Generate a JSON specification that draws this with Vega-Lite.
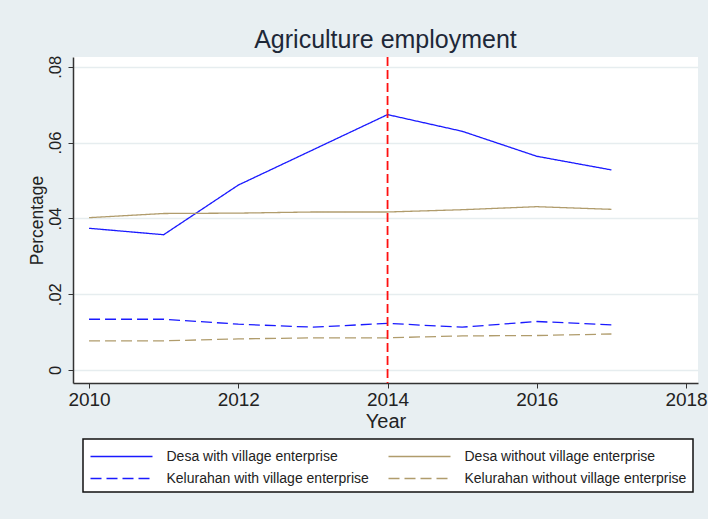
{
  "$schema": "https://vega.github.io/schema/vega-lite/v6.json",
  "width": 625,
  "height": 326,
  "autosize": {"type": "none"},
  "padding": {"left": 73, "top": 57, "right": 10, "bottom": 136},
  "background": "#e8eff2",
  "config": {
    "font": "Liberation Sans",
    "view": {"fill": "white", "stroke": null},
    "axis": {"labelFont": "Liberation Sans", "titleFont": "Liberation Sans", "labelColor": "#222222", "titleColor": "#222222", "domainColor": "#333333", "tickColor": "#333333", "titleFontWeight": "normal"},
    "legend": {"fillColor": "white", "strokeColor": "#111111", "padding": 6.5, "symbolType": "M-1,0L5.2,0", "symbolSize": 400, "symbolStrokeWidth": 1.5, "labelFontSize": 14, "labelColor": "#222222", "labelOffset": 55, "columnPadding": 16, "rowPadding": 4, "labelLimit": 400, "labelFont": "Liberation Sans"}
  },
  "title": {"text": "Agriculture employment", "fontSize": 25, "fontWeight": "normal", "color": "#1e2838", "anchor": "middle", "offset": 2, "font": "Liberation Sans"},
  "datasets": {
    "series": [
      {"year": 2010, "series": "Desa with village enterprise", "value": 0.0374},
      {"year": 2011, "series": "Desa with village enterprise", "value": 0.0357},
      {"year": 2012, "series": "Desa with village enterprise", "value": 0.0488},
      {"year": 2013, "series": "Desa with village enterprise", "value": 0.0581},
      {"year": 2014, "series": "Desa with village enterprise", "value": 0.0674},
      {"year": 2015, "series": "Desa with village enterprise", "value": 0.0630},
      {"year": 2016, "series": "Desa with village enterprise", "value": 0.0564},
      {"year": 2017, "series": "Desa with village enterprise", "value": 0.0528},
      {"year": 2010, "series": "Desa without village enterprise", "value": 0.0402},
      {"year": 2011, "series": "Desa without village enterprise", "value": 0.0413},
      {"year": 2012, "series": "Desa without village enterprise", "value": 0.0414},
      {"year": 2013, "series": "Desa without village enterprise", "value": 0.0417},
      {"year": 2014, "series": "Desa without village enterprise", "value": 0.0417},
      {"year": 2015, "series": "Desa without village enterprise", "value": 0.0423},
      {"year": 2016, "series": "Desa without village enterprise", "value": 0.0431},
      {"year": 2017, "series": "Desa without village enterprise", "value": 0.0424},
      {"year": 2010, "series": "Kelurahan with village enterprise", "value": 0.0134},
      {"year": 2011, "series": "Kelurahan with village enterprise", "value": 0.0134},
      {"year": 2012, "series": "Kelurahan with village enterprise", "value": 0.0121},
      {"year": 2013, "series": "Kelurahan with village enterprise", "value": 0.0113},
      {"year": 2014, "series": "Kelurahan with village enterprise", "value": 0.0123},
      {"year": 2015, "series": "Kelurahan with village enterprise", "value": 0.0113},
      {"year": 2016, "series": "Kelurahan with village enterprise", "value": 0.0128},
      {"year": 2017, "series": "Kelurahan with village enterprise", "value": 0.0119},
      {"year": 2010, "series": "Kelurahan without village enterprise", "value": 0.0077},
      {"year": 2011, "series": "Kelurahan without village enterprise", "value": 0.0077},
      {"year": 2012, "series": "Kelurahan without village enterprise", "value": 0.0082},
      {"year": 2013, "series": "Kelurahan without village enterprise", "value": 0.0085},
      {"year": 2014, "series": "Kelurahan without village enterprise", "value": 0.0085},
      {"year": 2015, "series": "Kelurahan without village enterprise", "value": 0.0090},
      {"year": 2016, "series": "Kelurahan without village enterprise", "value": 0.0091},
      {"year": 2017, "series": "Kelurahan without village enterprise", "value": 0.0095}
    ],
    "event": [{"year": 2014}]
  },
  "layer": [
    {
      "data": {"name": "series"},
      "mark": {"type": "line", "strokeWidth": 1.3},
      "encoding": {
        "x": {
          "field": "year", "type": "quantitative",
          "scale": {"domain": [2009.785, 2018.16], "nice": false, "zero": false},
          "axis": {"values": [2010, 2012, 2014, 2016, 2018], "format": "d", "grid": false, "title": "Year", "labelFontSize": 19, "titleFontSize": 20, "tickSize": 5, "labelPadding": 2, "titlePadding": 2, "domainWidth": 1.5, "labelFlush": false}
        },
        "y": {
          "field": "value", "type": "quantitative",
          "scale": {"domain": [-0.00343, 0.0826], "nice": false, "zero": false},
          "axis": {
            "values": [0, 0.02, 0.04, 0.06, 0.08],
            "labelExpr": "datum.value == 0 ? '0' : substring(format(datum.value, '.2f'), 1)",
            "labelAngle": 270, "labelAlign": "center", "labelBaseline": "bottom",
            "labelFontSize": 16.5, "titleFontSize": 17.5, "tickSize": 5, "labelPadding": 5, "titlePadding": 1,
            "domainWidth": 1.5, "grid": true, "gridColor": "#e6edef", "gridWidth": 1.5, "title": "Percentage", "labelFlush": false
          }
        },
        "color": {
          "field": "series", "type": "nominal",
          "scale": {
            "domain": ["Desa with village enterprise", "Desa without village enterprise", "Kelurahan with village enterprise", "Kelurahan without village enterprise"],
            "range": ["#1a1aff", "#b09c6c", "#1a1aff", "#b09c6c"]
          },
          "legend": {
            "title": null, "orient": "none", "legendX": 10, "legendY": 382, "columns": 2, "direction": "horizontal",
            "encode": {"legend": {"update": {"strokeWidth": {"value": 1.5}}}}
          }
        },
        "strokeDash": {
          "field": "series", "type": "nominal",
          "scale": {
            "domain": ["Desa with village enterprise", "Desa without village enterprise", "Kelurahan with village enterprise", "Kelurahan without village enterprise"],
            "range": [[1, 0], [1, 0], [11, 5], [11, 5]]
          },
          "legend": {
            "title": null, "orient": "none", "legendX": 10, "legendY": 382, "columns": 2, "direction": "horizontal",
            "encode": {"legend": {"update": {"strokeWidth": {"value": 1.5}}}}
          }
        }
      }
    },
    {
      "data": {"name": "event"},
      "mark": {"type": "rule", "color": "#ff1010", "strokeWidth": 1.8, "strokeDash": [9, 4]},
      "encoding": {"x": {"field": "year", "type": "quantitative"}}
    }
  ]
}
